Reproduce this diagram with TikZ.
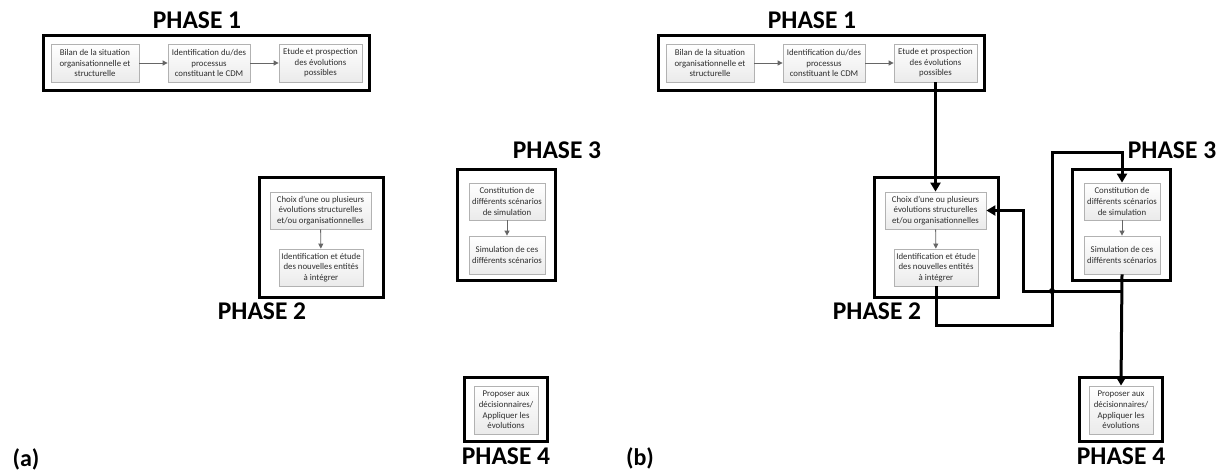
\documentclass[tikz,border=0pt]{standalone}
\usepackage{fontspec}
\setmainfont{Carlito}
\usetikzlibrary{arrows.meta}
\begin{document}
\begin{tikzpicture}[x=1pt,y=-1pt,
  ibox/.style={draw=gray!60, line width=0.8pt, top color=white, bottom color=gray!16,
    text=black!82, align=center, inner sep=0pt,
    font=\fontsize{8.8}{10.6}\selectfont},
  obox/.style={draw=black, line width=3pt, fill=white, inner sep=0pt},
  phase/.style={font=\bfseries\fontsize{25.5}{25.5}\selectfont, inner sep=0pt},
  panel/.style={font=\bfseries\fontsize{24}{24}\selectfont, inner sep=0pt},
  garrow/.style={draw=black!60, line width=0.9pt, -{Triangle[length=5pt,width=5pt]}},
  barrow/.style={draw=black, line width=3pt, line join=miter, -{Triangle[length=9pt,width=10pt]}}
]
\useasboundingbox (0,0) rectangle (1222,472);

% ---------------- panel (a) ----------------
\node[phase] (lp1) at (197,20.5) {PHASE 1};
\node[obox, minimum width=326, minimum height=55] (P1) at (206,62.5) {};
\node[ibox, minimum width=88, minimum height=38] (b1) at (95,63) {Bilan de la situation\\organisationnelle et\\structurelle};
\node[ibox, minimum width=82, minimum height=38] (b2) at (209,63) {Identification du/des\\processus\\constituant le CDM};
\node[ibox, minimum width=83, minimum height=38] (b3) at (320.5,63) {Etude et prospection\\des évolutions\\possibles};
\draw[garrow] (b1) -- (b2);
\draw[garrow] (b2) -- (b3);

\node[obox, minimum width=124, minimum height=120] (P2) at (321,237) {};
\node[ibox, minimum width=101, minimum height=37] (A) at (320.5,210.5) {Choix d’une ou plusieurs\\évolutions structurelles\\et/ou organisationnelles};
\node[ibox, minimum width=84, minimum height=37] (B) at (321,267.5) {Identification et étude\\des nouvelles entités\\à intégrer};
\draw[garrow] (A) -- (B);
\node[phase] (lp2) at (262,311) {PHASE 2};

\node[obox, minimum width=98, minimum height=111] (P3) at (506,224.5) {};
\node[ibox, minimum width=76, minimum height=37] (C) at (507,201.5) {Constitution de\\différents scénarios\\de simulation};
\node[ibox, minimum width=76, minimum height=38] (D) at (507,255) {Simulation de ces\\différents scénarios};
\draw[garrow] (C) -- (D);
\node[phase] (lp3) at (557,150) {PHASE 3};

\node[obox, minimum width=83, minimum height=64] (P4) at (505.5,409) {};
\node[ibox, minimum width=64, minimum height=48] (E) at (506,410) {Proposer aux\\décisionnaires/\\Appliquer les\\évolutions};
\node[phase] (lp4) at (506,456) {PHASE 4};

\node[panel] (la) at (26,459) {(a)};

% ---------------- panel (b) ----------------
\begin{scope}[xshift=615pt]
\node[phase] (rp1) at (197,20.5) {PHASE 1};
\node[obox, minimum width=326, minimum height=55] (P1r) at (206,62.5) {};
\node[ibox, minimum width=88, minimum height=38] (b1r) at (95,63) {Bilan de la situation\\organisationnelle et\\structurelle};
\node[ibox, minimum width=82, minimum height=38] (b2r) at (209,63) {Identification du/des\\processus\\constituant le CDM};
\node[ibox, minimum width=83, minimum height=38] (b3r) at (320.5,63) {Etude et prospection\\des évolutions\\possibles};

\node[obox, minimum width=124, minimum height=120] (P2r) at (321,237) {};
\node[ibox, minimum width=101, minimum height=37] (Ar) at (320.5,210.5) {Choix d’une ou plusieurs\\évolutions structurelles\\et/ou organisationnelles};
\node[ibox, minimum width=84, minimum height=37] (Br) at (321,267.5) {Identification et étude\\des nouvelles entités\\à intégrer};
\node[phase] (rp2) at (262,311) {PHASE 2};

\node[obox, minimum width=98, minimum height=111] (P3r) at (506,224.5) {};
\node[ibox, minimum width=76, minimum height=37] (Cr) at (507,201.5) {Constitution de\\différents scénarios\\de simulation};
\node[ibox, minimum width=76, minimum height=38] (Dr) at (507,255) {Simulation de ces\\différents scénarios};
\node[phase] (rp3) at (557,150) {PHASE 3};

\node[obox, minimum width=83, minimum height=64] (P4r) at (505.5,409) {};
\node[ibox, minimum width=64, minimum height=48] (Er) at (506,410) {Proposer aux\\décisionnaires/\\Appliquer les\\évolutions};
\node[phase] (rp4) at (506,456) {PHASE 4};

\node[panel] (lb) at (25,458) {(b)};

% corner coordinates
\coordinate (J) at (507,291);
\coordinate (k1) at (408,291);
\coordinate (m1) at (321,325);
\coordinate (m2) at (437,325);
\coordinate (m3) at (437,152);
\coordinate (X) at (437,291);
\end{scope}

\draw[garrow] (b1r) -- (b2r);
\draw[garrow] (b2r) -- (b3r);
\draw[garrow] (Ar) -- (Br);
\draw[garrow] (Cr) -- (Dr);

\draw[barrow] (b3r.south) -- (Ar.north);
\draw[barrow] (Dr.south) -- (Er.north);
\draw[barrow] (J) -- (k1) |- (Ar.east);
\draw[barrow] (Br.south) -- (Br.south |- m1) -- (m2) -- (m3) -| (Cr.north);
\fill (X) circle (3pt);
\end{tikzpicture}
\end{document}
